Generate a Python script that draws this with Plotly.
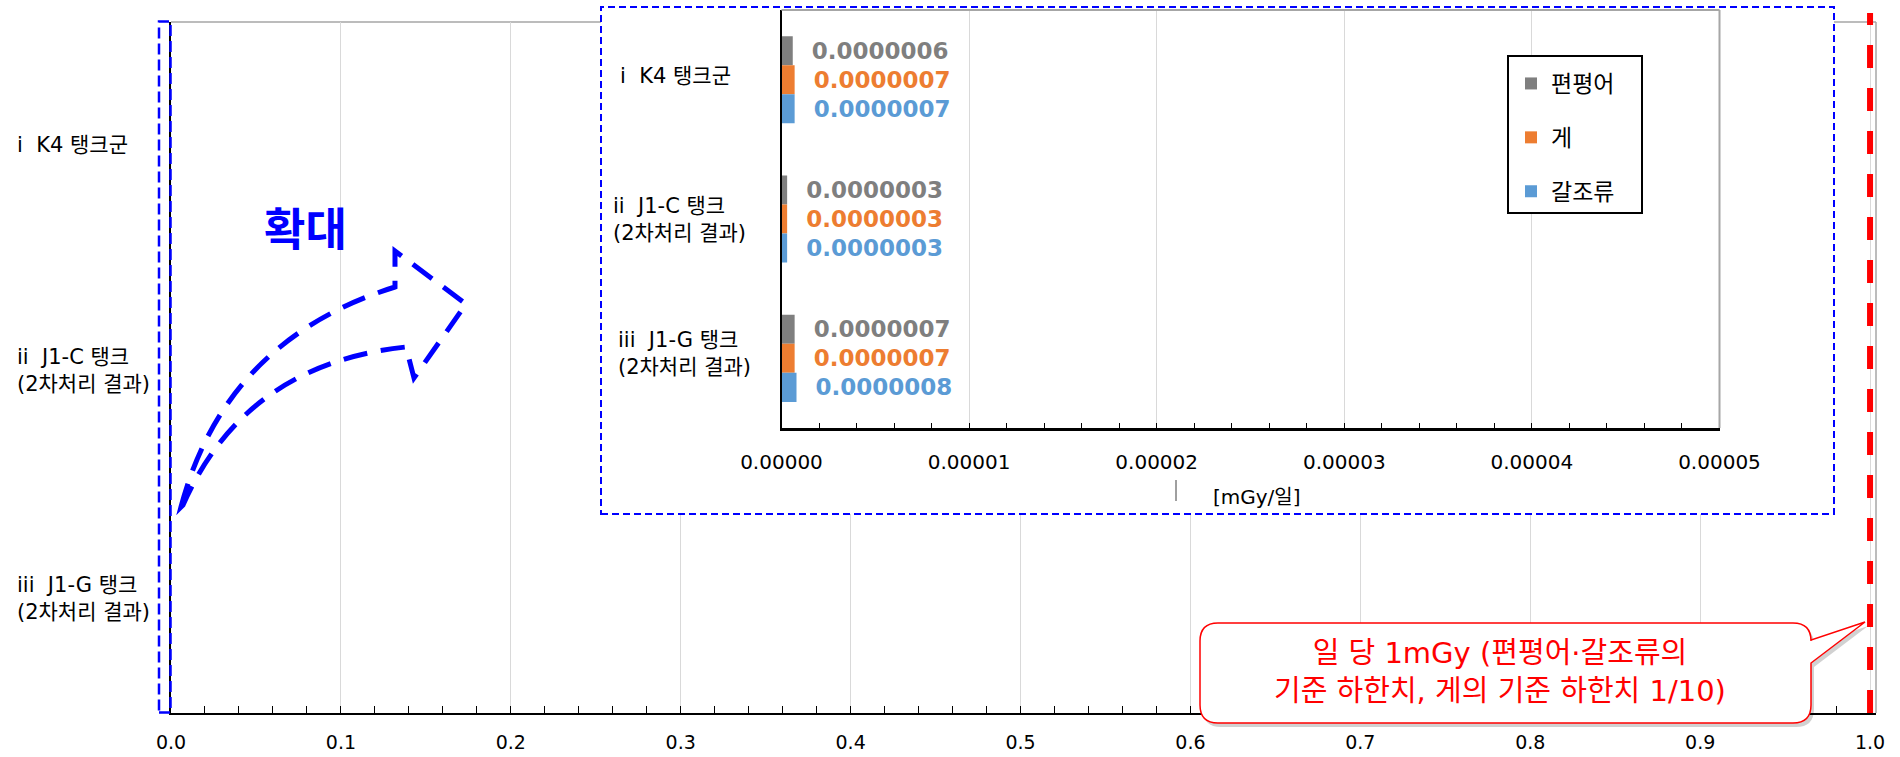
import plotly.graph_objects as go

# ---------------- data ----------------
categories = [
    "i\u00a0\u00a0K4 탱크군",
    "ii\u00a0\u00a0J1-C 탱크<br>(2차처리 결과)",
    "iii\u00a0\u00a0J1-G 탱크<br>(2차처리 결과)",
]
series_names = ["편평어", "게", "갈조류"]
flatfish = [0.0000006, 0.0000003, 0.0000007]   # 편평어
crab = [0.0000007, 0.0000003, 0.0000007]       # 게
algae = [0.0000007, 0.0000003, 0.0000008]      # 갈조류
series_colors = ["#7f7f7f", "#ed7d31", "#5b9bd5"]
threshold = 1.0   # 일 당 1mGy
zoom_label = "확대"
callout_text = "일 당 1mGy (편평어·갈조류의<br>기준 하한치, 게의 기준 하한치 1/10)"
inset_unit = "[mGy/일]"

# ---------------- helpers (pixel -> paper) ----------------
W, H = 1900, 757


def fx(x):
    return x / W


def fy(y):
    return 1 - y / H


def P(x, y):
    return f"{fx(x):.5f},{fy(y):.5f}"


KFONT = "DejaVu Sans, Noto Sans CJK KR"

fig = go.Figure()

# main chart bars (too small to be visible at this scale)
for name, vals, col in zip(series_names, [flatfish, crab, algae], series_colors):
    fig.add_trace(go.Bar(y=categories, x=vals, orientation="h", name=name,
                         marker_color=col, xaxis="x", yaxis="y",
                         showlegend=False, hoverinfo="skip"))

# white background panel for the inset (its own subplot so it covers main grid)
fig.add_trace(go.Scatter(x=[None], y=[None], xaxis="x2", yaxis="y2",
                         showlegend=False, hoverinfo="skip"))

# inset (zoomed) bars
for name, vals, col in zip(series_names, [flatfish, crab, algae], series_colors):
    fig.add_trace(go.Bar(
        y=categories, x=vals, orientation="h", name=name,
        marker=dict(color=col, line=dict(width=0)),
        xaxis="x3", yaxis="y3", legendgroup=name,
        texttemplate="\u00a0\u00a0%{x:.7f}", textposition="outside",
        textfont=dict(family="DejaVu Sans", size=23, color=col, weight="bold"),
        constraintext="none", cliponaxis=False, hoverinfo="skip"))

# ---------------- layout geometry ----------------
main_x = [fx(171), fx(1876)]
main_y = [fy(713), fy(22)]
box_x = [fx(601), fx(1834)]
box_y = [fy(514), fy(7)]
ins_x = [fx(781.5), fx(1719.5)]
ins_y = [fy(428), fy(10)]

fig.update_layout(
    width=W, height=H,
    margin=dict(l=0, r=0, t=0, b=0, pad=0, autoexpand=False),
    paper_bgcolor="white", plot_bgcolor="white",
    barmode="group", bargap=0.375, bargroupgap=0,
    hovermode=False,
    showlegend=True,
    legend=dict(x=fx(1511), xanchor="left", y=fy(62), yanchor="top",
                bgcolor="rgba(0,0,0,0)", borderwidth=0,
                font=dict(family="Noto Sans CJK KR", size=23, color="black"),
                traceorder="grouped", tracegroupgap=21),
    xaxis=dict(domain=main_x, range=[0, 1.0035], dtick=0.1, tick0=0,
               tickformat=".1f", showline=True, linecolor="black", linewidth=2,
               showgrid=True, gridcolor="#d9d9d9", gridwidth=1.3, zeroline=False,
               ticks="inside", ticklen=7, tickcolor="black", tickwidth=1.3,
               minor=dict(dtick=0.02, ticks="inside", ticklen=7,
                          tickcolor="black", tickwidth=1.3, showgrid=False),
               tickfont=dict(family="DejaVu Sans", size=19, color="black"),
               ticklabelstandoff=11, automargin=False, fixedrange=True),
    yaxis=dict(domain=main_y, type="category", categoryorder="array",
               categoryarray=categories, autorange="reversed",
               showline=True, linecolor="black", linewidth=1.5,
               showticklabels=False, ticks="", showgrid=False, zeroline=False,
               automargin=False, fixedrange=True),
    xaxis2=dict(domain=box_x, visible=False, anchor="y2", automargin=False,
                fixedrange=True),
    yaxis2=dict(domain=box_y, visible=False, anchor="x2", automargin=False,
                fixedrange=True),
    xaxis3=dict(domain=ins_x, anchor="y3", range=[0, 0.00005], dtick=0.00001,
                tick0=0, tickformat=".5f", showline=True, linecolor="black",
                linewidth=2.5, showgrid=True, gridcolor="#d9d9d9", gridwidth=1.3,
                zeroline=False, ticks="inside", ticklen=5, tickcolor="black",
                tickwidth=1.3,
                minor=dict(dtick=0.000002, ticks="inside", ticklen=5,
                           tickcolor="black", tickwidth=1.3, showgrid=False),
                tickfont=dict(family="DejaVu Sans", size=20, color="black"),
                ticklabelstandoff=14, automargin=False, fixedrange=True),
    yaxis3=dict(domain=ins_y, anchor="x3", type="category",
                categoryorder="array", categoryarray=categories,
                autorange="reversed", showline=True, linecolor="black",
                linewidth=2, showticklabels=False, ticks="", showgrid=False,
                zeroline=False, automargin=False, fixedrange=True),
)

shapes = []
# main plot gray top / right border
shapes.append(dict(type="line", xref="x domain", yref="y domain", x0=0, x1=1,
                   y0=1, y1=1, line=dict(color="#a6a6a6", width=1.5), layer="below"))
shapes.append(dict(type="line", xref="x domain", yref="y domain", x0=1, x1=1,
                   y0=0, y1=1, line=dict(color="#a6a6a6", width=1.5), layer="below"))
# inset gray top / right border
shapes.append(dict(type="line", xref="x3 domain", yref="y3 domain", x0=0, x1=1,
                   y0=1, y1=1, line=dict(color="#a6a6a6", width=2), layer="above"))
shapes.append(dict(type="line", xref="x3 domain", yref="y3 domain", x0=1, x1=1,
                   y0=0, y1=1, line=dict(color="#a6a6a6", width=2), layer="above"))
# threshold red dashed line
shapes.append(dict(type="line", xref="x", yref="paper", x0=threshold, x1=threshold,
                   y0=fy(713), y1=fy(13),
                   line=dict(color="#ff0000", width=6, dash="23px,20px"), layer="above"))
# blue dashed box around the main y-axis
shapes.append(dict(type="rect", xref="paper", yref="paper", x0=fx(159), x1=fx(170.5),
                   y0=fy(712.5), y1=fy(21.5),
                   line=dict(color="#0000ff", width=2.5, dash="11px,5px"), layer="above"))
# blue dashed box around the inset
shapes.append(dict(type="rect", xref="paper", yref="paper", x0=box_x[0], x1=box_x[1],
                   y0=box_y[0], y1=box_y[1],
                   line=dict(color="#0000ff", width=2, dash="7px,4px"), layer="above"))
# curved dashed arrow
arrow_path = ("M " + P(181, 507) + " Q " + P(225, 340) + " " + P(395, 287) +
              " L " + P(395, 251) + " L " + P(466, 304) + " L " + P(414, 378) +
              " L " + P(406, 347) + " Q " + P(245, 364) + " " + P(183, 505) + " Z")
shapes.append(dict(type="path", xref="paper", yref="paper", path=arrow_path,
                   line=dict(color="#0000ff", width=5, dash="24px,14px"), layer="above"))
# legend box
shapes.append(dict(type="rect", xref="paper", yref="paper", x0=fx(1508), x1=fx(1642),
                   y0=fy(213), y1=fy(56), line=dict(color="black", width=2),
                   fillcolor="white", layer="above"))
# small vertical mark near the inset unit label
shapes.append(dict(type="line", xref="paper", yref="paper", x0=fx(1176), x1=fx(1176),
                   y0=fy(501), y1=fy(480), line=dict(color="#404040", width=1),
                   layer="above"))


# callout (shadow + box with pointer)
def callout(dx, dy):
    x0, x1, y0, y1, r = 1200 + dx, 1811 + dx, 623 + dy, 723 + dy, 18
    return ("M " + P(x0 + r, y0) + " L " + P(x1 - r, y0) +
            " Q " + P(x1, y0) + " " + P(x1, y0 + r) +
            " L " + P(x1, 640 + dy) + " L " + P(1865 + dx, 622 + dy) +
            " L " + P(x1, 663 + dy) + " L " + P(x1, y1 - r) +
            " Q " + P(x1, y1) + " " + P(x1 - r, y1) +
            " L " + P(x0 + r, y1) + " Q " + P(x0, y1) + " " + P(x0, y1 - r) +
            " L " + P(x0, y0 + r) + " Q " + P(x0, y0) + " " + P(x0 + r, y0) + " Z")


shapes.append(dict(type="path", xref="paper", yref="paper", path=callout(3, 4),
                   fillcolor="rgba(0,0,0,0.18)", line=dict(width=0), layer="above"))
shapes.append(dict(type="path", xref="paper", yref="paper", path=callout(0, 0),
                   fillcolor="white", line=dict(color="#ff0000", width=1.5),
                   layer="above"))

annotations = []
# main category labels
main_label_shift = [-8, -3, -1]
for c, dy in zip(categories, main_label_shift):
    annotations.append(dict(xref="paper", yref="y", x=fx(15), y=c, text=c,
                            xanchor="left", yanchor="middle", align="left",
                            showarrow=False, yshift=dy,
                            font=dict(family=KFONT, size=21, color="black")))
# inset category labels
inset_label_x = [618, 611, 616]
inset_label_shift = [4, 0, 5]
for c, lx, dy in zip(categories, inset_label_x, inset_label_shift):
    annotations.append(dict(xref="paper", yref="y3", x=fx(lx), y=c, text=c,
                            xanchor="left", yanchor="middle", align="left",
                            showarrow=False, yshift=dy,
                            font=dict(family=KFONT, size=21, color="black")))
# zoom label
annotations.append(dict(xref="paper", yref="paper", x=fx(305), y=fy(227),
                        text=zoom_label, showarrow=False, xanchor="center",
                        yanchor="middle",
                        font=dict(family="Noto Sans CJK KR", size=45,
                                  color="#0000ff", weight="bold")))
# inset unit label
annotations.append(dict(xref="paper", yref="paper", x=fx(1257), y=fy(497),
                        text=inset_unit, showarrow=False, xanchor="center",
                        yanchor="middle",
                        font=dict(family=KFONT, size=20, color="black")))
# callout text
annotations.append(dict(xref="paper", yref="paper", x=fx(1500), y=fy(672),
                        text=callout_text, showarrow=False, xanchor="center",
                        yanchor="middle", align="center",
                        font=dict(family=KFONT, size=29, color="#ff0000")))

fig.update_layout(shapes=shapes, annotations=annotations)

fig.write_html("out.html", config={"displayModeBar": False},
               post_script="document.body.style.margin='0';"
                           "document.body.style.overflow='hidden';")
